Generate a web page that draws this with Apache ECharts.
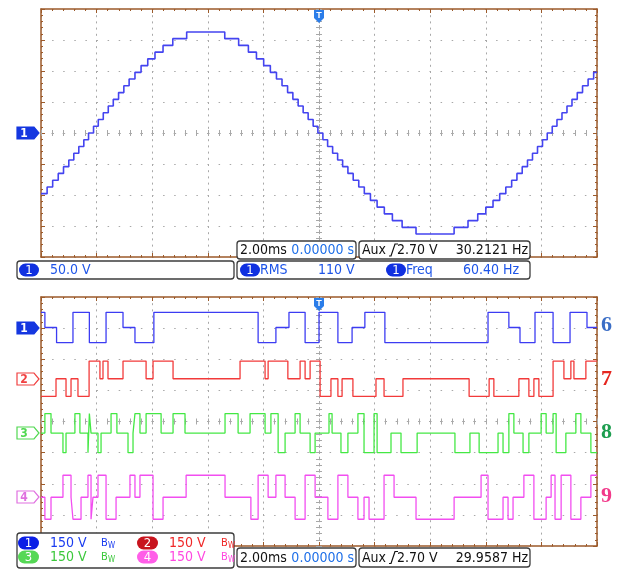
<!DOCTYPE html>
<html><head><meta charset="utf-8">
<script src="https://cdn.jsdelivr.net/npm/echarts@6/dist/echarts.min.js"></script>
<style>html,body{margin:0;padding:0;background:#fff}#c{width:624px;height:569px}</style>
</head><body><div id="c"></div>
<script>
// ---------- DATA ----------
// Top: channel 1 staircase voltage (V) ; time in ms, each value holds from its time to the next
const sineTimes = [-10,-9.78,-9.58,-9.38,-9.19,-9.00,-8.82,-8.64,-8.46,-8.29,-8.11,-7.94,-7.76,-7.58,-7.40,-7.21,-7.02,-6.83,-6.62,-6.40,-6.16,-5.90,-5.61,-5.26,-4.76,-3.39,-2.89,-2.54,-2.25,-1.99,-1.75,-1.53,-1.33,-1.13,-0.94,-0.75,-0.57,-0.39,-0.21,-0.04,0.14,0.31,0.49,0.67,0.85,1.04,1.23,1.43,1.63,1.85,2.09,2.35,2.64,2.99,3.49,4.86,5.36,5.71,6.00,6.26,6.50,6.72,6.93,7.12,7.31,7.50,7.68,7.86,8.04,8.21,8.39,8.56,8.74,8.92,9.10,9.29,9.48,9.68,9.88,10.0];
const sineVolts = [-97.8,-87.0,-76.1,-65.2,-54.3,-43.5,-32.6,-21.7,-10.9,0,10.9,21.7,32.6,43.5,54.3,65.2,76.1,87.0,97.8,108.7,119.6,130.4,141.3,152.2,163.0,152.2,141.3,130.4,119.6,108.7,97.8,87.0,76.1,65.2,54.3,43.5,32.6,21.7,10.9,0,-10.9,-21.7,-32.6,-43.5,-54.3,-65.2,-76.1,-87.0,-97.8,-108.7,-119.6,-130.4,-141.3,-152.2,-163.0,-152.2,-141.3,-130.4,-119.6,-108.7,-97.8,-87.0,-76.1,-65.2,-54.3,-43.5,-32.6,-21.7,-10.9,0,10.9,21.7,32.6,43.5,54.3,65.2,76.1,87.0,97.8,97.8];

// Bottom: four three-level bridge outputs (state +1 / 0 / -1 starting at each time, ms)
const ch1Times = [-10,-9.86,-9.44,-8.85,-8.26,-7.66,-7.05,-6.62,-5.94,-2.19,-1.55,-1.08,-0.50,0.0,0.68,1.19,1.65,2.37,6.08,6.83,7.23,7.77,8.42,9.03,9.64,10];
const ch1States = [1,0,-1,1,-1,1,0,-1,1,-1,0,1,-1,1,-1,0,1,-1,1,0,-1,1,-1,1,0,0];
const ch2Times = [-10,-9.46,-9.10,-8.92,-8.67,-8.27,-7.88,-7.77,-7.59,-7.05,-6.22,-5.97,-5.25,-2.84,-1.94,-1.83,-1.12,-0.68,-0.50,-0.32,0.04,0.43,0.68,0.83,1.22,2.05,2.34,3.02,5.40,6.12,6.29,7.19,7.55,7.73,7.91,8.42,8.81,9.06,9.17,9.60,10];
const ch2States = [-1,0,-1,0,-1,1,0,1,0,1,0,1,0,1,0,1,0,1,0,1,-1,0,-1,0,-1,0,-1,0,-1,0,-1,0,-1,0,-1,1,0,1,0,1,1];
const ch3Times = [-10,-9.86,-9.64,-9.21,-9.10,-8.78,-8.60,-8.31,-8.26,-8.20,-7.95,-7.84,-7.48,-7.27,-6.87,-6.69,-6.62,-6.44,-6.22,-5.68,-5.25,-4.82,-3.38,-2.91,-2.48,-1.94,-1.73,-1.47,-1.22,-0.86,-0.68,-0.32,-0.14,0.36,0.47,0.79,1.04,1.40,1.62,1.98,2.09,2.59,2.95,3.53,4.89,5.43,5.76,6.44,6.62,6.83,7.01,7.34,7.55,7.99,8.17,8.42,8.53,8.88,9.24,9.42,9.78,10];
const ch3States = [0,1,0,-1,0,1,0,-1,1,0,-1,0,1,0,-1,0,1,0,1,0,1,0,1,0,1,0,1,-1,0,1,0,-1,0,1,0,-1,0,1,-1,1,-1,0,-1,0,-1,0,-1,0,-1,1,0,-1,0,1,0,1,-1,0,1,0,-1,-1];
const ch4Times = [-10,-9.86,-9.64,-9.21,-8.92,-8.85,-8.56,-8.31,-8.20,-8.13,-7.95,-7.66,-7.30,-6.80,-6.62,-6.44,-5.97,-5.61,-4.78,-3.38,-2.45,-2.19,-1.83,-1.55,-1.22,-0.86,-0.50,-0.14,0.32,0.68,1.04,1.40,1.62,1.80,2.34,2.70,3.49,4.86,5.83,6.08,6.62,6.80,6.98,7.37,7.73,8.17,8.35,8.49,8.71,9.06,9.42,9.78,10];
const ch4States = [0,-1,0,1,0,-1,0,1,-1,0,1,-1,0,1,0,1,-1,0,1,0,-1,1,0,1,0,-1,1,0,-1,1,0,-1,0,-1,1,0,-1,0,1,-1,0,-1,0,1,-1,0,1,-1,1,-1,0,1,1];
const stepVolts = [73, 85, 94, 106];            // bridge DC levels (V)
const traceLabels = ['6', '7', '8', '9'];

// ---------- LAYOUT / STYLE ----------
const chanOffset = [453, 206, -56, -365];      // channel ground positions on the 150 V/div scale
const chanColor = ['#3c3cf2', '#f23a3a', '#44e844', '#f24ef0'];
const labelColor = ['#3b6ec6', '#e5261f', '#1e9e50', '#f2398a'];
const BORDER = '#9c5a2a', DOT = '#a8a8a8';
const FAM = "'Liberation Sans Narrow','DejaVu Sans Condensed','Arial Narrow',sans-serif";

function xAxes(g) {
  const base = {gridIndex: g, type: 'value', min: -10, max: 10, interval: 2, axisLabel: {show: false}, splitLine: {show: false}};
  const brd = {onZero: false, lineStyle: {color: BORDER, width: 1.5}};
  return [
    Object.assign({}, base, {position: 'bottom', axisLine: brd, axisTick: {inside: true, length: 4, lineStyle: {color: BORDER}},
      minorTick: {show: true, splitNumber: 5, length: 2, lineStyle: {color: BORDER}},
      splitLine: {show: true, lineStyle: {color: DOT, width: 1, type: [2, 4.2]}}}),
    Object.assign({}, base, {position: 'top', axisLine: brd, axisTick: {inside: true, length: 4, lineStyle: {color: BORDER}},
      minorTick: {show: true, splitNumber: 5, length: 2, lineStyle: {color: BORDER}}}),
    Object.assign({}, base, {position: 'bottom', axisLine: {onZero: true, lineStyle: {color: DOT, type: [1.5, 9.6]}},
      axisTick: {inside: false, length: 3, lineStyle: {color: DOT}}, minorTick: {show: true, splitNumber: 5, length: 3, lineStyle: {color: DOT}}}),
    Object.assign({}, base, {position: 'top', axisLine: {onZero: true, lineStyle: {color: DOT, type: [1.5, 9.6]}},
      axisTick: {inside: false, length: 3, lineStyle: {color: DOT}}, minorTick: {show: true, splitNumber: 5, length: 3, lineStyle: {color: DOT}}})
  ];
}
function yAxes(g, min, max, interval) {
  const base = {gridIndex: g, type: 'value', min, max, interval, axisLabel: {show: false}, splitLine: {show: false}};
  const brd = {onZero: false, lineStyle: {color: BORDER, width: 1.5}};
  return [
    Object.assign({}, base, {position: 'left', axisLine: brd, axisTick: {inside: true, length: 4, lineStyle: {color: BORDER}},
      minorTick: {show: true, splitNumber: 5, length: 2, lineStyle: {color: BORDER}},
      splitLine: {show: true, lineStyle: {color: DOT, width: 1, type: [1.5, 9.6]}}}),
    Object.assign({}, base, {position: 'right', axisLine: brd, axisTick: {inside: true, length: 4, lineStyle: {color: BORDER}},
      minorTick: {show: true, splitNumber: 5, length: 2, lineStyle: {color: BORDER}}}),
    Object.assign({}, base, {position: 'left', axisLine: {onZero: true, lineStyle: {color: DOT, type: [2, 4.2]}},
      axisTick: {inside: false, length: 3, lineStyle: {color: DOT}}, minorTick: {show: true, splitNumber: 5, length: 3, lineStyle: {color: DOT}}}),
    Object.assign({}, base, {position: 'right', axisLine: {onZero: true, lineStyle: {color: DOT, type: [2, 4.2]}},
      axisTick: {inside: false, length: 3, lineStyle: {color: DOT}}, minorTick: {show: true, splitNumber: 5, length: 3, lineStyle: {color: DOT}}})
  ];
}

// ---------- GRAPHIC DECORATIONS (scope readouts) ----------
const G = [];
function rect(x, y, w, h) { G.push({type: 'rect', shape: {x, y, width: w, height: h, r: 3}, style: {fill: '#fff', stroke: '#3c3c3c', lineWidth: 1.3}, z: 50}); }
function label(x, y, s, color, align, size, weight, fam) {
  G.push({type: 'text', x, y, z: 53, style: {text: s, fill: color, font: (weight || 'normal') + ' ' + (size || 14) + 'px ' + (fam || FAM),
    textAlign: align || 'left', align: align || 'left', textVerticalAlign: 'middle', verticalAlign: 'middle'}});
}
function pill(x, cy, w, fill, s) {
  G.push({type: 'rect', shape: {x, y: cy - 6.5, width: w, height: 13, r: 6.5}, style: {fill}, z: 51});
  label(x + w / 2, cy + 0.5, s, '#fff', 'center', 13);
}
function edge(x, cy) {
  G.push({type: 'polyline', shape: {points: [[x, cy + 6], [x + 2, cy + 6], [x + 6, cy - 6], [x + 9, cy - 6]]}, style: {stroke: '#111', lineWidth: 1.2, fill: null}, z: 53});
}
function bw(x, cy, color) { label(x, cy, 'B', color, 'left', 11); label(x + 7, cy + 3, 'W', color, 'left', 8); }
function chMarker(cy, color, s, filled) {
  G.push({type: 'polygon', shape: {points: [[17, cy - 6], [34, cy - 6], [39, cy], [34, cy + 6], [17, cy + 6]]},
    style: {fill: filled ? color : '#fff', stroke: color, lineWidth: 1.2}, z: 51});
  label(24, cy + 0.5, s, filled ? '#fff' : color, 'center', 12, 'bold');
}
function trig(y) {
  G.push({type: 'polygon', shape: {points: [[314, y], [324, y], [324, y + 8], [319, y + 13], [314, y + 8]]}, style: {fill: '#2b7de9'}, z: 51});
  label(319, y + 6, 'T', '#fff', 'center', 9, 'bold', 'sans-serif');
}
// top panel readouts
rect(237, 241, 119, 18); label(240, 250.5, '2.00ms', '#111'); label(354, 250.5, '0.00000 s', '#1e6fe8', 'right');
rect(359, 241, 171, 18); label(362, 250.5, 'Aux', '#111'); edge(389, 250); label(397, 250.5, '2.70 V', '#111'); label(528, 250.5, '30.2121 Hz', '#111', 'right');
rect(17, 261, 217, 18); pill(19, 270, 20, '#1030e0', '1'); label(50, 270.5, '50.0 V', '#1e55e8');
rect(237, 261, 293, 18); pill(240, 270, 20, '#1030e0', '1'); label(260, 270.5, 'RMS', '#1e55e8'); label(318, 270.5, '110 V', '#1e55e8');
pill(386, 270, 20, '#1030e0', '1'); label(406, 270.5, 'Freq', '#1e55e8'); label(463, 270.5, '60.40 Hz', '#1e55e8');
// bottom panel readouts
rect(17, 533, 217, 35);
pill(18, 543, 21, '#0b1fe6', '1'); label(50, 543.5, '150 V', '#1a3cf0'); bw(101, 543, '#1a3cf0');
pill(137, 543, 21, '#c8141e', '2'); label(169, 543.5, '150 V', '#f02828'); bw(221, 543, '#f02828');
pill(18, 557, 21, '#55d855', '3'); label(50, 557.5, '150 V', '#3cc83c'); bw(101, 557, '#3cc83c');
pill(137, 557, 21, '#ff5ee8', '4'); label(169, 557.5, '150 V', '#ff48e0'); bw(221, 557, '#ff48e0');
rect(237, 548, 119, 19); label(240, 558, '2.00ms', '#111'); label(354, 558, '0.00000 s', '#1e6fe8', 'right');
rect(359, 548, 171, 19); label(362, 558, 'Aux', '#111'); edge(389, 557.5); label(397, 558, '2.70 V', '#111'); label(528, 558, '29.9587 Hz', '#111', 'right');
// channel ground markers, trigger markers
chMarker(133, '#1537e0', '1', true);
chMarker(328, '#1537e0', '1', true);
chMarker(379, '#f04040', '2', false);
chMarker(433, '#50d850', '3', false);
chMarker(497, '#e070e0', '4', false);
trig(10); trig(298);
// trace numbers on the right
const labelY = [325, 379, 432, 496];
traceLabels.forEach((s, i) => label(601, labelY[i], s, labelColor[i], 'left', 22, 'bold', "'Liberation Serif','DejaVu Serif',serif"));

// ---------- SERIES ----------
const series = [{
  type: 'line', xAxisIndex: 0, yAxisIndex: 0, step: 'end', symbol: 'none', z: 5,
  lineStyle: {color: '#4444f0', width: 1.6},
  data: sineTimes.map((t, i) => [t, sineVolts[i]])
}];
const chT = [ch1Times, ch2Times, ch3Times, ch4Times];
const chS = [ch1States, ch2States, ch3States, ch4States];
chT.forEach((times, c) => {
  series.push({
    type: 'line', xAxisIndex: 4, yAxisIndex: 4, step: 'end', symbol: 'none', z: 5,
    lineStyle: {color: chanColor[c], width: 1.3},
    data: times.map((t, i) => [t, chanOffset[c] + chS[c][i] * stepVolts[c]])
  });
});

const chart = echarts.init(document.getElementById('c'), null, {renderer: 'canvas', width: 624, height: 569});
chart.setOption({
  animation: false,
  backgroundColor: '#fff',
  grid: [
    {left: 41, top: 9, width: 556, height: 248},
    {left: 41, top: 297, width: 556, height: 249}
  ],
  xAxis: xAxes(0).concat(xAxes(1)),
  yAxis: yAxes(0, -200, 200, 50).concat(yAxes(1, -600, 600, 150)),
  series,
  graphic: G
});
</script>
</body></html>
